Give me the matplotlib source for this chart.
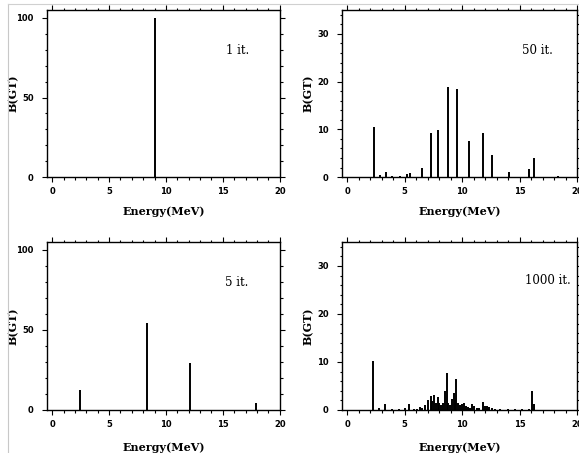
import matplotlib
matplotlib.use("Agg")
import matplotlib.pyplot as plt
from matplotlib.ticker import MultipleLocator
from matplotlib.lines import Line2D

# 1 iteration
e_1it = [9.0]
b_1it = [100.0]

# 5 iterations
e_5it = [2.48, 8.32, 12.12, 17.87]
b_5it = [12.5, 54.6, 29.2, 4.2]

# 50 iterations
e_50it = [2.32, 2.84, 3.39, 3.9, 4.58, 5.16, 5.5, 6.55, 7.25, 7.94, 8.81,
          9.54, 10.6, 11.83, 12.6, 14.06, 15.83, 16.26, 18.35]
b_50it = [10.4, 0.35, 1.05, 0.3, 0.3, 0.7, 0.9, 1.95, 9.2, 9.9, 18.8,
          18.4, 7.5, 9.2, 4.6, 1.05, 1.8, 4.0, 0.25]

# 1000 iterations
e_1000it = [2.27, 2.79, 3.31, 3.87, 4.53, 5.05, 5.35, 5.8, 6.1, 6.34, 6.54,
            6.77, 7.0, 7.27, 7.4, 7.59, 7.73, 7.88, 8.02, 8.17, 8.3, 8.5,
            8.66, 8.8, 8.95, 9.13, 9.27, 9.36, 9.48, 9.62, 9.83, 10.0, 10.17,
            10.35, 10.55, 10.7, 10.9, 11.05, 11.28, 11.5, 11.8, 11.95, 12.15,
            12.38, 12.6, 12.88, 13.3, 14.0, 14.6, 15.2, 15.8, 16.1, 16.28]
b_1000it = [10.3, 0.5, 1.2, 0.3, 0.3, 0.4, 1.2, 0.2, 0.3, 0.7, 0.5,
            1.0, 2.1, 2.9, 1.9, 3.1, 1.5, 2.7, 1.5, 1.0, 1.4, 3.9,
            7.7, 1.5, 1.0, 2.3, 3.5, 2.0, 6.4, 1.5, 1.0, 1.2, 1.4,
            0.8, 0.6, 0.5, 1.3, 0.8, 0.4, 0.4, 1.7, 0.9, 0.8,
            0.6, 0.4, 0.2, 0.15, 0.1, 0.1, 0.1, 0.1, 3.9, 1.3]

panels = [
    # (energies, strengths, label, axes rect, ylim, ymajor, yminor, text pos, xlabel y)
    (e_1it, b_1it, "1 it.", [0.0812, 0.609, 0.402, 0.369], 105, 50, 10, (0.82, 0.76), -0.174),
    (e_50it, b_50it, "50 it.", [0.5907, 0.609, 0.406, 0.369], 35, 10, 2, (0.83, 0.76), -0.174),
    (e_5it, b_5it, "5 it.", [0.0812, 0.095, 0.402, 0.371], 105, 50, 10, (0.815, 0.76), -0.19),
    (e_1000it, b_1000it, "1000 it.", [0.5907, 0.095, 0.406, 0.371], 35, 10, 2, (0.875, 0.77), -0.19),
]

serif = ["DejaVu Serif"]

fig = plt.figure(figsize=(5.79, 4.53), dpi=100)

# faint page border lines from the scan
fig.add_artist(Line2D([0.013, 0.013], [0, 0.992], color="#c8c8c8", lw=0.8))
fig.add_artist(Line2D([0.013, 1.0], [0.992, 0.992], color="#d0d0d0", lw=0.8))

for e, b, label, rect, ytop, ymaj, ymin, tpos, xly in panels:
    ax = fig.add_axes(rect)
    ax.vlines(e, 0, b, color="black", lw=1.4)
    ax.set_xlim(-0.45, 20)
    ax.set_ylim(0, ytop)
    ax.xaxis.set_major_locator(MultipleLocator(5))
    ax.xaxis.set_minor_locator(MultipleLocator(1))
    ax.yaxis.set_major_locator(MultipleLocator(ymaj))
    ax.yaxis.set_minor_locator(MultipleLocator(ymin))
    ax.tick_params(which="both", direction="out", top=True, right=True,
                   width=0.8, labelsize=6)
    ax.tick_params(which="major", length=3.6)
    ax.tick_params(which="minor", length=1.8)
    ax.tick_params(axis="x", which="major", pad=3.5)
    ax.tick_params(axis="y", which="major", pad=6)
    for t in ax.get_xticklabels() + ax.get_yticklabels():
        t.set_fontweight("bold")
    for s in ax.spines.values():
        s.set_linewidth(1.0)
    ax.set_xlabel("Energy(MeV)", family=serif, fontweight="bold", fontsize=8)
    ax.set_ylabel("B(GT)", family=serif, fontweight="bold", fontsize=8)
    ax.xaxis.set_label_coords(0.5, xly)
    ax.yaxis.set_label_coords(-0.12, 0.5)
    ax.text(tpos[0], tpos[1], label, transform=ax.transAxes, ha="center",
            va="center", family=serif, fontsize=8.5)

fig.savefig("out.png", dpi=100)
